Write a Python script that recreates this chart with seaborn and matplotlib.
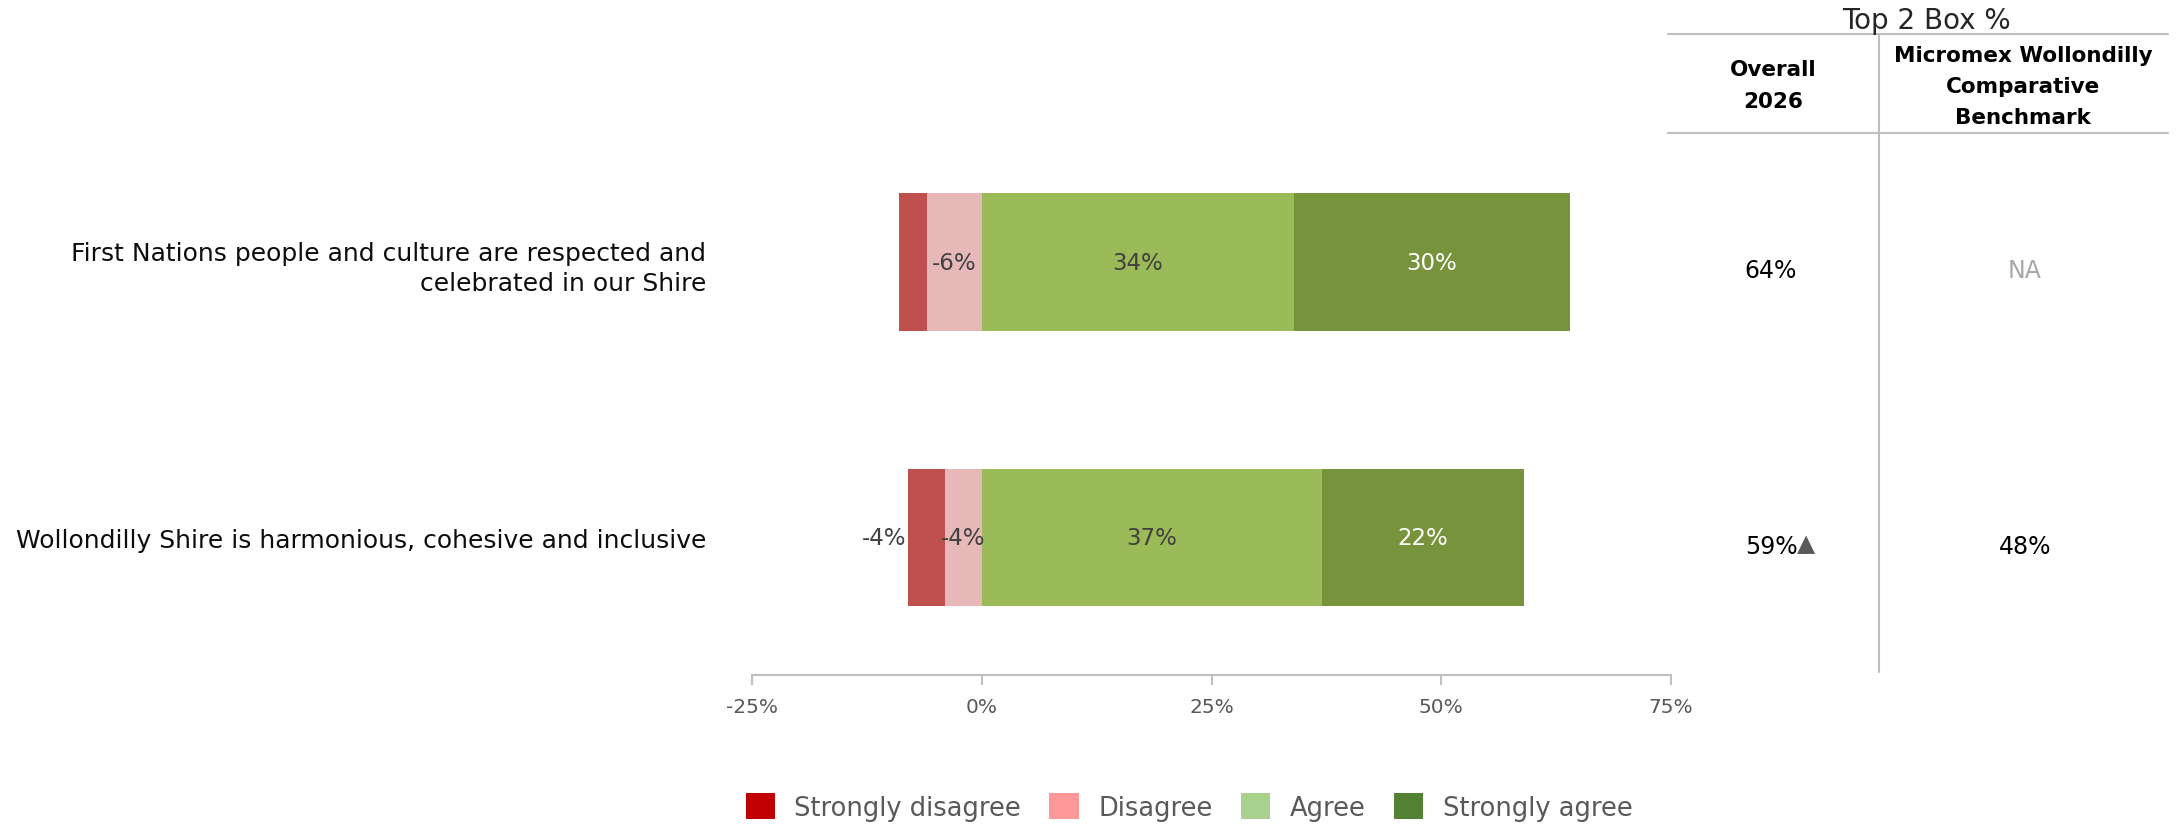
import matplotlib
matplotlib.use("Agg")
import matplotlib.pyplot as plt
import matplotlib.transforms as mtransforms
from matplotlib.patches import Patch
from matplotlib.lines import Line2D
import seaborn as sns
import pandas as pd
import numpy as np

# ---------------- data ----------------
statements = [
    "First Nations people and culture are respected and\ncelebrated in our Shire",
    "Wollondilly Shire is harmonious, cohesive and inclusive",
]
strongly_disagree = [3, 4]
disagree = [6, 4]
agree = [34, 37]
strongly_agree = [30, 22]
overall_2026 = ["64%", "59%"]
significance = ["", "▲"]
benchmark = ["NA", "48%"]
x_ticks = [-25, 0, 25, 50, 75]
legend_labels = ["Strongly disagree", "Disagree", "Agree", "Strongly agree"]

# ---------------- style ----------------
W, H = 2176, 828
sns.set_theme(style="white")
plt.rcParams["font.family"] = ["DejaVu Sans"]

bar_cols = ["#C0504D", "#E6B9B8", "#9BBB59", "#77933C"]
leg_cols = ["#C00000", "#FF9999", "#A9D18E", "#548235"]
grey = "#595959"
line_col = "#BFBFBF"

fig = plt.figure(figsize=(W / 100, H / 100), dpi=100)
ax = fig.add_axes([752 / W, 1 - 676 / H, (1671 - 752) / W, (676 - 125.5) / H])

df = pd.DataFrame({
    "statement": statements,
    "sd": strongly_disagree,
    "d": disagree,
    "a": agree,
    "sa": strongly_agree,
})
df["neg_outer"] = -(df["sd"] + df["d"])
df["neg_inner"] = -df["d"]
df["pos_outer"] = df["a"] + df["sa"]
df["pos_inner"] = df["a"]

common = dict(y="statement", orient="h", width=0.5, saturation=1, linewidth=0, ax=ax)
sns.barplot(data=df, x="neg_outer", color=bar_cols[0], **common)
sns.barplot(data=df, x="neg_inner", color=bar_cols[1], **common)
sns.barplot(data=df, x="pos_outer", color=bar_cols[3], **common)
sns.barplot(data=df, x="pos_inner", color=bar_cols[2], **common)

ax.set_xlim(-25, 75)
ax.set_ylim(1.5, -0.5)
ax.set_xticks(x_ticks)
ax.set_xticklabels([f"{t}%" for t in x_ticks])
ax.set_xlabel("")
ax.set_ylabel("")
for s in ["top", "right", "left"]:
    ax.spines[s].set_visible(False)
ax.spines["bottom"].set_color(line_col)
ax.spines["bottom"].set_linewidth(1.5)
ax.tick_params(axis="x", bottom=True, length=7, width=1.5, color=line_col,
               labelsize=14.5, labelcolor=grey, pad=9)
ax.tick_params(axis="y", left=False, length=0, labelsize=18, labelcolor="#0D0D0D", pad=33)
for lab in ax.get_yticklabels():
    lab.set_horizontalalignment("right")
    lab.set_linespacing(1.35)

# segment labels
lab_fs = 16.5
for i, row in df.iterrows():
    if row["sd"] >= 4:
        ax.text(row["neg_outer"] - 0.2, i, f"-{row['sd']}%", ha="right", va="center",
                fontsize=lab_fs, color="#404040")
    ax.text(-row["d"] / 2, i, f"-{row['d']}%", ha="center", va="center",
            fontsize=lab_fs, color="#404040")
    ax.text(row["a"] / 2, i, f"{row['a']}%", ha="center", va="center",
            fontsize=lab_fs, color="#404040")
    ax.text(row["a"] + row["sa"] / 2, i, f"{row['sa']}%", ha="center", va="center",
            fontsize=lab_fs, color="white")

# ---------------- right table ----------------
fx = lambda px: px / W
fy = lambda py: 1 - py / H
for (x0, y0, x1, y1) in [(1668, 35, 2168, 35), (1668, 134, 2168, 134), (1879, 35, 1879, 673)]:
    fig.add_artist(Line2D([fx(x0), fx(x1)], [fy(y0), fy(y1)], color=line_col, lw=1.5,
                          transform=fig.transFigure))

fig.text(fx(1926), fy(21), "Top 2 Box %", ha="center", va="center", fontsize=20, color="#262626")
fig.text(fx(1773), fy(86), "Overall\n2026", ha="center", va="center", fontsize=15.5,
         fontweight="bold", color="black", linespacing=1.7)
fig.text(fx(2023), fy(87), "Micromex Wollondilly\nComparative\nBenchmark", ha="center",
         va="center", fontsize=15.5, fontweight="bold", color="black", linespacing=1.7)

blend = mtransforms.blended_transform_factory(fig.transFigure, ax.transData)
for i in range(len(statements)):
    ax.text(fx(1771), i + 0.03, overall_2026[i], ha="center", va="center", fontsize=17,
            color="black", transform=blend)
    if significance[i]:
        ax.text(fx(1797), i + 0.02, significance[i], ha="left", va="center", fontsize=17,
                color=grey, transform=blend)
    ax.text(fx(2025), i + 0.03, benchmark[i], ha="center", va="center", fontsize=17,
            color="#A6A6A6" if benchmark[i] == "NA" else "black", transform=blend)

# ---------------- legend ----------------
handles = [Patch(facecolor=c, edgecolor="none") for c in leg_cols]
fig.legend(handles, legend_labels, loc="center", bbox_to_anchor=(fx(1189), fy(808)),
           ncol=4, frameon=False, fontsize=18.5, labelcolor=grey,
           handlelength=1.15, handleheight=1.15, handletextpad=0.75, columnspacing=1.1)

fig.savefig("out.png", dpi=100)
